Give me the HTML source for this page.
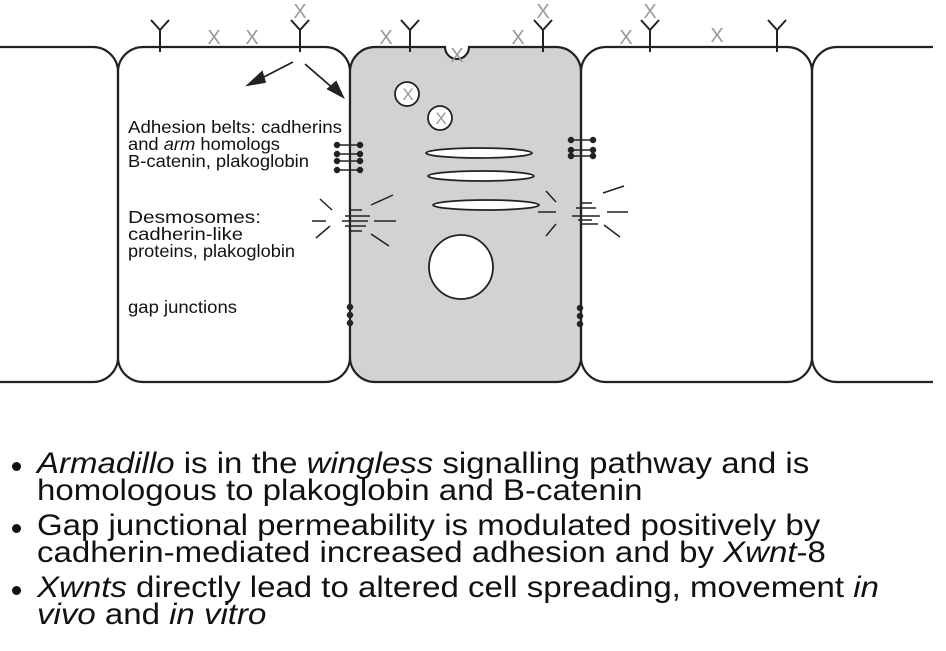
<!DOCTYPE html>
<html><head><style>
body{margin:0;background:#fff;width:946px;height:651px;overflow:hidden;}
.b{position:absolute;left:37px;font-family:"Liberation Sans",sans-serif;font-size:30px;line-height:27px;color:#111;white-space:nowrap;transform:scaleX(1.1);transform-origin:0 0;}
.d{position:absolute;left:12px;width:9px;height:9px;border-radius:50%;background:#111;}
</style></head><body>
<svg width="946" height="651" style="position:absolute;left:0;top:0" font-family="Liberation Sans, sans-serif">
<g stroke="#222" stroke-width="2.2" fill="none">
<path d="M0 47 H93 A25 25 0 0 1 118 72 V357 A25 25 0 0 1 93 382 H0"/>
<rect x="118" y="47" width="232" height="335" rx="25"/>
<path d="M375 47 H445 A12 12 0 0 0 469 47 H556 A25 25 0 0 1 581 72 V357 A25 25 0 0 1 556 382 H375 A25 25 0 0 1 350 357 V72 A25 25 0 0 1 375 47 Z" fill="#d2d2d2"/>
<rect x="581" y="47" width="231" height="335" rx="25"/>
<path d="M933 47 H837 A25 25 0 0 0 812 72 V357 A25 25 0 0 0 837 382 H933"/>
</g>
<g stroke="#222" stroke-width="2" fill="none">
<path d="M160 52V30 M160 30L151 20 M160 30L169 20"/>
<path d="M300 52V30 M300 30L291 20 M300 30L309 20"/>
<path d="M410 52V30 M410 30L401 20 M410 30L419 20"/>
<path d="M543 52V30 M543 30L534 20 M543 30L552 20"/>
<path d="M650 52V30 M650 30L641 20 M650 30L659 20"/>
<path d="M777 52V30 M777 30L768 20 M777 30L786 20"/>
</g>
<g fill="#999" font-size="20" text-anchor="middle">
<text x="214" y="44">X</text><text x="252" y="44">X</text><text x="300" y="18">X</text>
<text x="386" y="44">X</text><text x="518" y="44">X</text><text x="543" y="18">X</text>
<text x="626" y="44">X</text><text x="650" y="18">X</text><text x="717" y="42">X</text>
<text x="457" y="62">X</text>
</g>
<g stroke="#222" stroke-width="1.8" fill="#fff">
<circle cx="407" cy="94" r="12"/><circle cx="440" cy="118" r="12"/>
<ellipse cx="479" cy="153" rx="53" ry="5"/><ellipse cx="481" cy="176" rx="53" ry="5"/>
<ellipse cx="486" cy="205" rx="53" ry="5"/>
<circle cx="461" cy="267" r="32"/>
</g>
<g fill="#999" font-size="17" text-anchor="middle"><text x="408" y="100">X</text><text x="441" y="124">X</text></g>
<g stroke="#222" stroke-width="1.8" fill="#222">
<line x1="293" y1="62" x2="258" y2="80"/><polygon points="248,85 262,72 265,82"/>
<line x1="305" y1="64" x2="335" y2="90"/><polygon points="343,97 328,89 336,82"/>
</g>
<g stroke="#222" stroke-width="1.5" fill="#222">
<line x1="337" y1="145" x2="360" y2="145"/><line x1="337" y1="154" x2="360" y2="154"/><line x1="337" y1="161" x2="360" y2="161"/><line x1="337" y1="170" x2="360" y2="170"/>
<circle cx="337" cy="145" r="2.5"/><circle cx="360" cy="145" r="2.5"/><circle cx="337" cy="154" r="2.5"/><circle cx="360" cy="154" r="2.5"/><circle cx="337" cy="161" r="2.5"/><circle cx="360" cy="161" r="2.5"/><circle cx="337" cy="170" r="2.5"/><circle cx="360" cy="170" r="2.5"/>
<line x1="571" y1="140" x2="593" y2="140"/><line x1="571" y1="150" x2="593" y2="150"/><line x1="571" y1="156" x2="593" y2="156"/>
<circle cx="571" cy="140" r="2.5"/><circle cx="593" cy="140" r="2.5"/><circle cx="571" cy="150" r="2.5"/><circle cx="593" cy="150" r="2.5"/><circle cx="571" cy="156" r="2.5"/><circle cx="593" cy="156" r="2.5"/>
<circle cx="350" cy="307" r="2.5"/><circle cx="350" cy="315" r="2.5"/><circle cx="350" cy="323" r="2.5"/>
<circle cx="580" cy="308" r="2.5"/><circle cx="580" cy="316" r="2.5"/><circle cx="580" cy="324" r="2.5"/>
</g>
<g stroke="#222" stroke-width="1.5">
<path d="M350 210H362 M345 216H370 M342 221H368 M345 226H366 M350 231H362"/>
<path d="M320 199L332 210 M312 221H326 M316 238L330 226 M371 205L393 195 M374 221H396 M371 234L389 246"/>
<path d="M580 203H592 M576 208H596 M572 216H600 M578 220H592 M580 224H598"/>
<path d="M546 191L556 202 M538 212H556 M546 236L556 224 M603 193L624 186 M607 212H628 M604 225L620 237"/>
</g>
<g font-size="17.5" fill="#111">
<text x="128" y="133" textLength="214" lengthAdjust="spacingAndGlyphs">Adhesion belts:  cadherins</text>
<text x="128" y="150" textLength="152" lengthAdjust="spacingAndGlyphs">and <tspan font-style="italic">arm</tspan> homologs</text>
<text x="128" y="167" textLength="181" lengthAdjust="spacingAndGlyphs">B-catenin, plakoglobin</text>
<text x="128" y="223" textLength="133" lengthAdjust="spacingAndGlyphs">Desmosomes:</text>
<text x="128" y="240" textLength="115" lengthAdjust="spacingAndGlyphs">cadherin-like</text>
<text x="128" y="257" textLength="167" lengthAdjust="spacingAndGlyphs">proteins, plakoglobin</text>
<text x="128" y="313" textLength="109" lengthAdjust="spacingAndGlyphs">gap junctions</text>
</g>
</svg>
<div class="d" style="top:462px"></div>
<div class="d" style="top:524px"></div>
<div class="d" style="top:586px"></div>
<div class="b" style="top:450px"><i>Armadillo</i> is in the <i>wingless</i> signalling pathway and is<br>homologous to plakoglobin and B-catenin</div>
<div class="b" style="top:512px">Gap junctional permeability is modulated positively by<br>cadherin-mediated increased adhesion and by <i>Xwnt</i>-8</div>
<div class="b" style="top:574px"><i>Xwnts</i> directly lead to altered cell spreading, movement <i>in</i><br><i>vivo</i> and <i>in vitro</i></div>
</body></html>
